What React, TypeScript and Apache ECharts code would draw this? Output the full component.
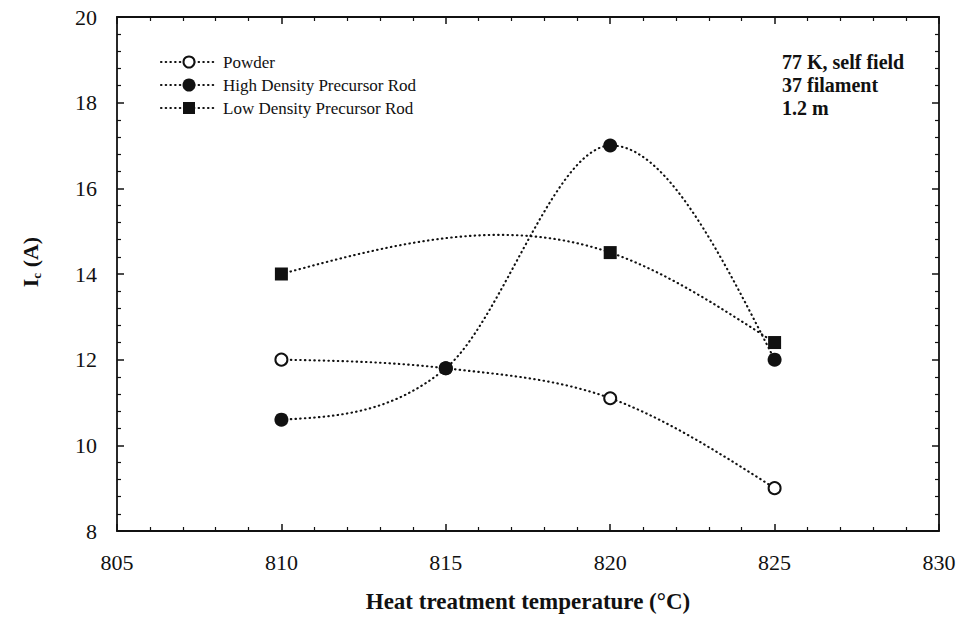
import React, { useEffect, useRef } from "react";
import * as echarts from "echarts";

// ---- data ----
const xTicks = [805, 810, 815, 820, 825, 830];
const temps = [810, 815, 820, 825];
const powder = [12.0, 11.8, 11.1, 9.0];
const highDensity = [10.6, 11.8, 17.0, 12.0];
const lowTemps = [810, 820, 825];
const lowDensity = [14.0, 14.5, 12.4];
const legendNames = ["Powder", "High Density Precursor Rod", "Low Density Precursor Rod"];
const noteLines = ["77 K, self field", "37 filament", "1.2 m"];

const FONT = '"Liberation Serif", "Times New Roman", serif';
const INK = "#111";

function pairs(xs: number[], ys: number[]) {
  return xs.map((x, i) => [x, ys[i]]);
}

// smooth cubic Hermite curve through pixel points (x increasing), rendering only:
// interior tangents from the parabola through neighbours, natural-type ends
function smoothPath(p: number[][]): number[][] {
  const n = p.length;
  if (n < 3) return p;
  const h: number[] = [];
  const d: number[] = [];
  for (let i = 0; i < n - 1; i++) {
    h.push(p[i + 1][0] - p[i][0]);
    d.push((p[i + 1][1] - p[i][1]) / h[i]);
  }
  const m: number[] = new Array(n).fill(0);
  for (let i = 1; i < n - 1; i++) {
    m[i] = (d[i - 1] * h[i] + d[i] * h[i - 1]) / (h[i - 1] + h[i]);
  }
  m[0] = (3 * d[0] - m[1]) / 2;
  m[n - 1] = (3 * d[n - 2] - m[n - 2]) / 2;
  const out: number[][] = [];
  for (let i = 0; i < n - 1; i++) {
    const steps = 60;
    for (let s = 0; s < steps; s++) {
      const t = s / steps;
      const t2 = t * t;
      const t3 = t2 * t;
      const h00 = 2 * t3 - 3 * t2 + 1;
      const h10 = t3 - 2 * t2 + t;
      const h01 = -2 * t3 + 3 * t2;
      const h11 = t3 - t2;
      const x = p[i][0] + t * h[i];
      const y = h00 * p[i][1] + h10 * h[i] * m[i] + h01 * p[i + 1][1] + h11 * h[i] * m[i + 1];
      out.push([x, y]);
    }
  }
  out.push(p[n - 1]);
  return out;
}

function curveSeries(xs: number[], ys: number[]) {
  return {
    type: "custom",
    coordinateSystem: "cartesian2d",
    xAxisIndex: 0,
    yAxisIndex: 0,
    data: pairs(xs, ys),
    encode: { x: 0, y: 1 },
    z: 1,
    silent: true,
    renderItem: (params: any, api: any) => {
      if (params.dataIndex !== 0) return null;
      const pts = xs.map((x, i) => api.coord([x, ys[i]]));
      return {
        type: "polyline",
        shape: { points: smoothPath(pts) },
        style: {
          stroke: INK,
          lineWidth: 2.1,
          lineDash: [0.5, 4.2],
          lineCap: "round",
          fill: null,
        },
      };
    },
  };
}

const rowsY = [62, 85, 108];

function legendGraphics() {
  const els: any[] = [];
  const symbols = ["empty", "circle", "rect"];
  rowsY.forEach((y, i) => {
    els.push({
      type: "line",
      shape: { x1: 161, y1: y, x2: 217, y2: y },
      style: { stroke: INK, lineWidth: 2.1, lineDash: [0.5, 4.2], lineCap: "round" },
    });
    if (symbols[i] === "empty") {
      els.push({
        type: "circle",
        shape: { cx: 189, cy: y, r: 5.5 },
        style: { fill: "#fff", stroke: INK, lineWidth: 2 },
      });
    } else if (symbols[i] === "circle") {
      els.push({ type: "circle", shape: { cx: 189, cy: y, r: 6.5 }, style: { fill: INK } });
    } else {
      els.push({ type: "rect", shape: { x: 183, y: y - 6, width: 12, height: 12 }, style: { fill: INK } });
    }
    els.push({
      type: "text",
      x: 223,
      y,
      style: {
        text: legendNames[i],
        fontFamily: FONT,
        fontSize: 17,
        fill: INK,
        verticalAlign: "middle",
        align: "left",
      },
    });
    els.push({
      type: "text",
      x: 782,
      y,
      style: {
        text: noteLines[i],
        fontFamily: FONT,
        fontSize: 20,
        fontWeight: "bold",
        fill: INK,
        verticalAlign: "middle",
        align: "left",
      },
    });
  });
  els.push({
    type: "text",
    x: 30,
    y: 262,
    rotation: Math.PI / 2,
    style: {
      text: "{i|I}{c|c}{i| (A)}",
      align: "center",
      verticalAlign: "middle",
      fill: INK,
      rich: {
        i: { fontFamily: FONT, fontSize: 22, fontWeight: "bold", fill: INK },
        c: { fontFamily: FONT, fontSize: 13, fontWeight: "bold", fill: INK, padding: [12, 0, 0, 0] },
      },
    },
  });
  return els;
}

const axisCommon = {
  axisLine: { show: true, onZero: false, lineStyle: { color: INK, width: 1.8 } },
  axisTick: { show: true, inside: true, length: 7, lineStyle: { color: INK, width: 1.5 } },
  minorTick: { show: true, splitNumber: 5, length: 4, lineStyle: { color: INK, width: 1.2 } },
  splitLine: { show: false },
  minorSplitLine: { show: false },
};

export default function App() {
  const ref = useRef<HTMLDivElement>(null);
  useEffect(() => {
    document.body.style.margin = "0";
    if (!ref.current) return;
    const chart = echarts.init(ref.current, undefined, { renderer: "svg" });
    const option: any = {
      animation: false,
      backgroundColor: "#fff",
      grid: { left: 117, right: 19, top: 17, bottom: 90, containLabel: false, outerBoundsMode: "none" },
      xAxis: [
        {
          type: "value",
          min: xTicks[0],
          max: xTicks[xTicks.length - 1],
          interval: 5,
          position: "bottom",
          ...axisCommon,
          axisLabel: { fontFamily: FONT, fontSize: 22, color: INK, margin: 20 },
          name: "Heat treatment temperature (°C)",
          nameLocation: "middle",
          nameGap: 59,
          nameTextStyle: { fontFamily: FONT, fontSize: 23, fontWeight: "bold", color: INK },
        },
        {
          type: "value",
          min: xTicks[0],
          max: xTicks[xTicks.length - 1],
          interval: 5,
          position: "top",
          ...axisCommon,
          axisLabel: { show: false },
        },
      ],
      yAxis: [
        {
          type: "value",
          min: 8,
          max: 20,
          interval: 2,
          position: "left",
          ...axisCommon,
          axisLabel: { fontFamily: FONT, fontSize: 22, color: INK, margin: 20 },
        },
        {
          type: "value",
          min: 8,
          max: 20,
          interval: 2,
          position: "right",
          ...axisCommon,
          axisLabel: { show: false },
        },
      ],
      graphic: legendGraphics(),
      series: [
        curveSeries(temps, powder),
        curveSeries(temps, highDensity),
        curveSeries(lowTemps, lowDensity),
        {
          name: legendNames[0],
          type: "scatter",
          data: pairs(temps, powder),
          symbol: "circle",
          symbolSize: 12,
          itemStyle: { color: "#fff", borderColor: INK, borderWidth: 2, opacity: 1 },
          z: 3,
        },
        {
          name: legendNames[1],
          type: "scatter",
          data: pairs(temps, highDensity),
          symbol: "circle",
          symbolSize: 14,
          itemStyle: { color: INK, opacity: 1 },
          z: 4,
        },
        {
          name: legendNames[2],
          type: "scatter",
          data: pairs(lowTemps, lowDensity),
          symbol: "rect",
          symbolSize: 13,
          itemStyle: { color: INK, opacity: 1 },
          z: 4,
        },
      ],
    };
    chart.setOption(option);
    return () => chart.dispose();
  }, []);
  return <div ref={ref} style={{ width: 958, height: 621 }} />;
}
